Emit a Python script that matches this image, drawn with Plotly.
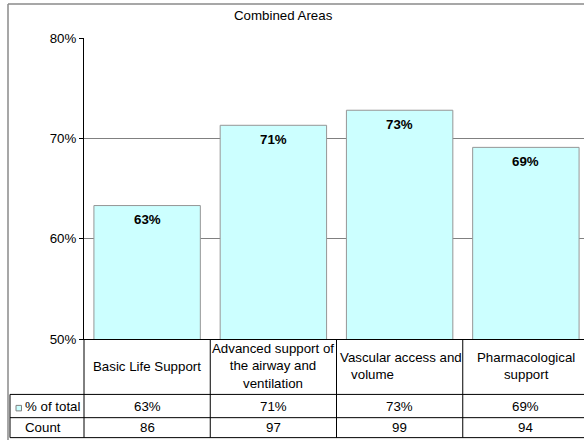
import plotly.graph_objects as go

# Chart data
categories = [
    "Basic Life Support",
    "Advanced support of<br>the airway and<br>ventilation",
    "Vascular access and<br>\u00a0\u00a0\u00a0volume",
    "Pharmacological<br>support",
]
pct_of_total = [0.633, 0.713, 0.728, 0.691]
counts = [86, 97, 99, 94]
series_name = "% of total"
count_name = "Count"
title_text = "Combined Areas"

W, H = 584, 440
ML, MR, MT, MB = 84, 0, 38, 100.5
PW = W - ML - MR
PH = H - MT - MB
FONT = "Liberation Sans, Arial, sans-serif"
FS = 13.3

def px_x(px):
    return (px - ML) / PW

def px_y(py):
    return (H - MB - py) / PH

xs = list(range(len(categories)))

fig = go.Figure()
fig.add_trace(go.Bar(
    x=xs, y=pct_of_total, name=series_name,
    marker=dict(color="#CCFFFF", line=dict(color="#969696", width=1)),
    hoverinfo="skip",
))

annotations = []
shapes = []

# value labels at the top of each bar
for x, v in zip(xs, pct_of_total):
    annotations.append(dict(
        x=x, y=v, xref="x", yref="y", text=f"<b>{v:.0%}</b>",
        showarrow=False, yanchor="top", yshift=-4.5,
        font=dict(family=FONT, size=FS, color="black"),
    ))

# title
annotations.append(dict(
    x=px_x(283), y=px_y(15), xref="paper", yref="paper", text=title_text,
    showarrow=False, xanchor="center", yanchor="middle",
    font=dict(family=FONT, size=FS, color="black"),
))

# data table: category header row
header_y = px_y(366.8)
for x, c in zip(xs, categories):
    if c.startswith("Vascular"):
        annotations.append(dict(
            x=x - 0.5, y=header_y, xref="x", yref="paper", text=c,
            showarrow=False, xanchor="left", yanchor="middle", align="left",
            xshift=1, font=dict(family=FONT, size=FS, color="black"),
        ))
    else:
        annotations.append(dict(
            x=x, y=header_y, xref="x", yref="paper", text=c,
            showarrow=False, xanchor="center", yanchor="middle", align="center",
            font=dict(family=FONT, size=FS, color="black"),
        ))

# data table: value rows
row1_y = px_y(406.7)
row2_y = px_y(428.3)
for x, v, n in zip(xs, pct_of_total, counts):
    annotations.append(dict(
        x=x, y=row1_y, xref="x", yref="paper", text=f"{v:.0%}",
        showarrow=False, xanchor="center", yanchor="middle",
        font=dict(family=FONT, size=FS, color="black"),
    ))
    annotations.append(dict(
        x=x, y=row2_y, xref="x", yref="paper", text=str(n),
        showarrow=False, xanchor="center", yanchor="middle",
        font=dict(family=FONT, size=FS, color="black"),
    ))

# row headers
annotations.append(dict(
    x=px_x(22.5), y=row1_y, xref="paper", yref="paper", text=series_name,
    showarrow=False, xanchor="left", yanchor="middle",
    font=dict(family=FONT, size=FS, color="black"),
))
annotations.append(dict(
    x=px_x(43), y=row2_y, xref="paper", yref="paper", text=count_name,
    showarrow=False, xanchor="center", yanchor="middle",
    font=dict(family=FONT, size=FS, color="black"),
))

# legend key in the table
shapes.append(dict(
    type="rect", xref="paper", yref="paper",
    x0=px_x(16), x1=px_x(21.5), y0=px_y(411.5), y1=px_y(406),
    fillcolor="#CCFFFF", line=dict(color="#808080", width=1),
))

# table grid lines
line_style = dict(color="black", width=1)
for py in (395, 418.3, 438.3):
    shapes.append(dict(type="line", xref="paper", yref="paper",
                       x0=px_x(10), x1=1.02, y0=px_y(py), y1=px_y(py), line=line_style))
shapes.append(dict(type="line", xref="paper", yref="paper",
                   x0=px_x(10), x1=px_x(10), y0=px_y(395), y1=px_y(438.3), line=line_style))
shapes.append(dict(type="line", xref="paper", yref="paper",
                   x0=0, x1=0, y0=0, y1=px_y(438.3), line=line_style))
for x in xs[1:]:
    shapes.append(dict(type="line", xref="x", yref="paper",
                       x0=x - 0.5, x1=x - 0.5, y0=0, y1=px_y(438.3), line=line_style))

# outer chart border
border = dict(color="#8a8a8a", width=1.5)
shapes.append(dict(type="line", xref="paper", yref="paper",
                   x0=px_x(8), x1=px_x(8), y0=px_y(4), y1=px_y(441), line=border))
shapes.append(dict(type="line", xref="paper", yref="paper",
                   x0=px_x(8), x1=1.02, y0=px_y(4), y1=px_y(4), line=border))

fig.update_layout(
    width=W, height=H,
    margin=dict(l=ML, r=MR, t=MT, b=MB, pad=0),
    paper_bgcolor="white", plot_bgcolor="white",
    showlegend=False,
    bargap=0.157,
    font=dict(family=FONT, size=FS, color="black"),
    annotations=annotations,
    shapes=shapes,
)
fig.update_xaxes(
    range=[-0.5, -0.5 + PW / 126.25],
    showticklabels=False, ticks="", showgrid=False, zeroline=False,
    showline=True, linecolor="black", linewidth=1, fixedrange=True,
)
fig.update_yaxes(
    range=[0.5, 0.8], dtick=0.1, tick0=0.5, tickformat=".0%",
    showgrid=True, gridcolor="#808080", gridwidth=1, zeroline=False,
    showline=True, linecolor="black", linewidth=1,
    ticks="outside", ticklen=4, tickcolor="black", tickwidth=1,
    tickfont=dict(family=FONT, size=FS, color="black"), fixedrange=True,
)

fig.write_html("out.html")
